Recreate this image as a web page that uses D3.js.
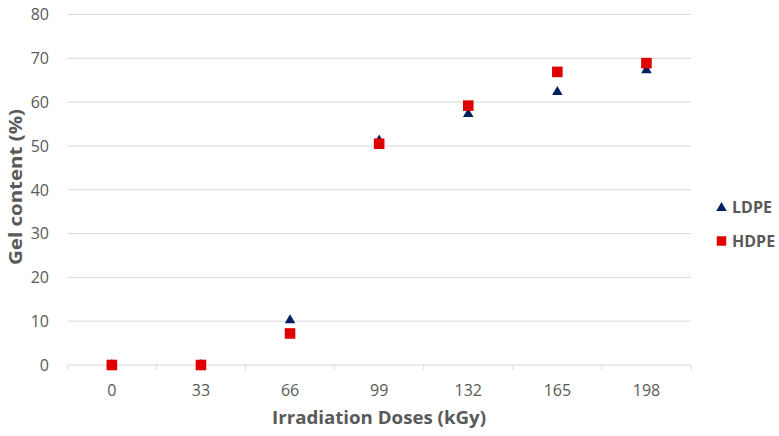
<!DOCTYPE html>
<html>
<head>
<meta charset="utf-8">
<script src="https://cdn.jsdelivr.net/npm/d3@7"></script>
<style>
  html, body { margin: 0; padding: 0; background: #fff; }
  svg { display: block; }
  text { font-family: "Open Sans", "Liberation Sans", sans-serif; }
</style>
</head>
<body>
<svg id="chart" width="779" height="436"></svg>
<script>
const categories = ["0", "33", "66", "99", "132", "165", "198"];
const ldpeValues = [0, 0, 10.2, 51.2, 57.3, 62.3, 67.3];
const hdpeValues = [0, 0, 7.2, 50.5, 59.2, 66.9, 68.9];
const yTicks = [0, 10, 20, 30, 40, 50, 60, 70, 80];
const seriesNames = ["LDPE", "HDPE"];

const svg = d3.select("#chart");
const plotL = 67.3, plotR = 691, plotT = 14.5, plotB = 365;
const grid = "#d9d9d9", textCol = "#595959";
const navy = "#002060", red = "#E00000";

const x = d3.scaleBand().domain(categories).range([plotL, plotR]).padding(0);
const y = d3.scaleLinear().domain([0, 80]).range([plotB, plotT]);

// gridlines
svg.append("g").selectAll("line").data(yTicks.filter(d => d > 0)).join("line")
  .attr("x1", plotL).attr("x2", plotR)
  .attr("y1", d => y(d)).attr("y2", d => y(d))
  .attr("stroke", grid).attr("stroke-width", 1);

// y labels
svg.append("g").selectAll("text").data(yTicks).join("text")
  .attr("x", 49).attr("y", d => y(d)).attr("dy", "0.36em")
  .attr("text-anchor", "end").attr("fill", textCol).attr("font-size", 16)
  .text(d => d);

// x axis
const xAxis = d3.axisBottom(x).tickSize(0).tickPadding(0);
const gx = svg.append("g").attr("transform", `translate(0,${plotB})`).call(xAxis);
gx.select(".domain").remove();
gx.selectAll("text").attr("fill", textCol).attr("font-size", 16)
  .attr("y", 20).attr("dy", "0.71em").attr("font-family", "Open Sans, sans-serif");
svg.append("line").attr("x1", plotL).attr("x2", plotR).attr("y1", plotB).attr("y2", plotB)
  .attr("stroke", grid).attr("stroke-width", 1);
const bounds = categories.map(c => x(c)).concat([plotR]);
svg.append("g").selectAll("line").data(bounds).join("line")
  .attr("x1", d => d).attr("x2", d => d).attr("y1", plotB).attr("y2", plotB + 5)
  .attr("stroke", grid).attr("stroke-width", 1);

// titles
svg.append("text").attr("x", 379).attr("y", 424).attr("text-anchor", "middle")
  .attr("fill", textCol).attr("font-size", 18.5).attr("font-weight", "bold")
  .attr("textLength", 214).attr("lengthAdjust", "spacingAndGlyphs")
  .text("Irradiation Doses (kGy)");
svg.append("text").attr("transform", "translate(22,187) rotate(-90)")
  .attr("text-anchor", "middle").attr("fill", textCol).attr("font-size", 18.5).attr("font-weight", "bold")
  .attr("textLength", 156).attr("lengthAdjust", "spacingAndGlyphs")
  .text("Gel content (%)");

const tri = d3.symbol().type(d3.symbolTriangle).size(48);
const sq = d3.symbol().type(d3.symbolSquare).size(112);

// LDPE
svg.append("g").selectAll("path").data(ldpeValues).join("path")
  .attr("d", tri)
  .attr("transform", (d, i) => `translate(${x(categories[i]) + x.bandwidth() / 2},${y(d)})`)
  .attr("fill", navy);
// HDPE
svg.append("g").selectAll("path").data(hdpeValues).join("path")
  .attr("d", sq)
  .attr("transform", (d, i) => `translate(${x(categories[i]) + x.bandwidth() / 2},${y(d)})`)
  .attr("fill", red);

// legend
const legend = svg.append("g");
const legY = [207, 241];
legend.append("path").attr("d", tri).attr("transform", `translate(721.5,${legY[0] + 1})`).attr("fill", navy);
legend.append("path").attr("d", d3.symbol().type(d3.symbolSquare).size(90)).attr("transform", `translate(721.5,${legY[1]})`).attr("fill", red);
legend.selectAll("text").data(seriesNames).join("text")
  .attr("x", 732).attr("y", (d, i) => legY[i]).attr("dy", "0.36em")
  .attr("fill", textCol).attr("font-size", 16).attr("font-weight", "bold")
  .text(d => d);
</script>
</body>
</html>
